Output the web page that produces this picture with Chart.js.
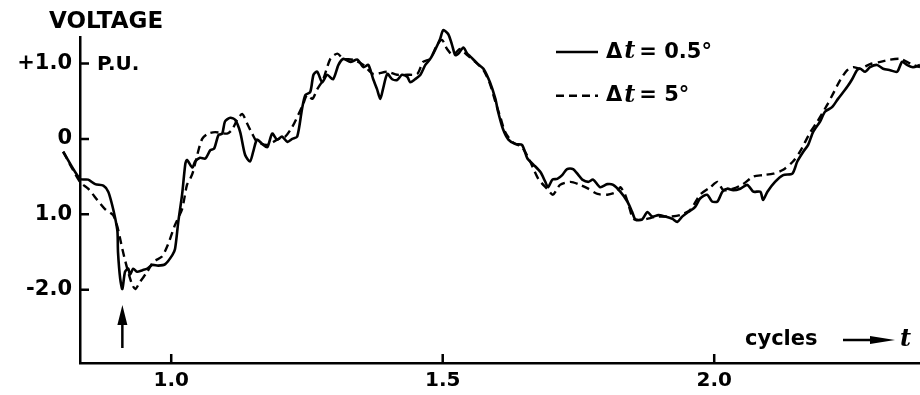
<!DOCTYPE html>
<html>
<head>
<meta charset="utf-8">
<script src="https://cdn.jsdelivr.net/npm/chart.js@4.4.0/dist/chart.umd.min.js"></script>
<style>
  html, body { margin: 0; padding: 0; background: #fff; }
  #wrap { width: 920px; height: 395px; }
</style>
</head>
<body>
<div id="wrap"><canvas id="voltageChart"></canvas></div>
<script>
// solid trace, dt = 0.5 deg (time in cycles, voltage in P.U.)
var fineT = [0.801, 0.832, 0.847, 0.860, 0.875, 0.884, 0.891, 0.897, 0.901, 0.902, 0.906, 0.910, 0.915, 0.921, 0.924, 0.930, 0.937, 0.947, 0.956,
    0.965, 0.976, 0.989, 1.002, 1.007, 1.013, 1.020, 1.026, 1.029, 1.039, 1.044, 1.053, 1.063, 1.072, 1.079, 1.087, 1.094, 1.099, 1.109, 1.118,
    1.127, 1.136, 1.145, 1.151, 1.158, 1.168, 1.177, 1.186, 1.195, 1.204, 1.214, 1.223, 1.232, 1.241, 1.247, 1.256, 1.262, 1.269, 1.278, 1.287,
    1.298, 1.308, 1.317, 1.330, 1.343, 1.354, 1.363, 1.372, 1.379, 1.385, 1.390, 1.398, 1.407, 1.416, 1.425, 1.435, 1.440, 1.449, 1.459, 1.468,
    1.477, 1.486, 1.495, 1.501, 1.510, 1.517, 1.523, 1.529, 1.538, 1.545, 1.551, 1.565, 1.575, 1.587, 1.597, 1.602, 1.611, 1.621, 1.634, 1.646,
    1.656, 1.667, 1.680, 1.689, 1.694, 1.702, 1.711, 1.720, 1.729, 1.740, 1.750, 1.757, 1.768, 1.777, 1.790, 1.803, 1.814, 1.827, 1.840, 1.849,
    1.855, 1.867, 1.877, 1.886, 1.897, 1.910, 1.923, 1.932, 1.941, 1.952, 1.965, 1.974, 1.987, 1.996, 2.006, 2.015, 2.024, 2.035, 2.048, 2.061,
    2.072, 2.085, 2.090, 2.098, 2.112, 2.127, 2.144, 2.153, 2.164, 2.173, 2.182, 2.195, 2.204, 2.217, 2.228, 2.245, 2.254, 2.263, 2.269, 2.278,
    2.287, 2.300, 2.311, 2.324, 2.337, 2.346, 2.355, 2.366, 2.379];
var fineV = [-0.17, -0.53, -0.54, -0.60, -0.62, -0.70, -0.87, -1.06, -1.23, -1.50, -1.85, -1.99, -1.76, -1.72, -1.80, -1.72, -1.76, -1.74, -1.72,
    -1.67, -1.68, -1.66, -1.54, -1.46, -1.10, -0.74, -0.33, -0.28, -0.38, -0.30, -0.25, -0.26, -0.15, -0.13, 0.05, 0.07, 0.23, 0.28, 0.25,
    0.09, -0.21, -0.30, -0.17, -0.01, -0.07, -0.11, 0.07, -0.01, 0.03, -0.04, 0.00, 0.03, 0.40, 0.58, 0.62, 0.85, 0.89, 0.75, 0.85,
    0.79, 0.98, 1.06, 1.02, 1.05, 0.95, 0.98, 0.79, 0.66, 0.53, 0.66, 0.86, 0.79, 0.78, 0.85, 0.82, 0.75, 0.79, 0.85, 0.98,
    1.06, 1.18, 1.32, 1.44, 1.39, 1.25, 1.11, 1.13, 1.21, 1.13, 1.09, 0.99, 0.93, 0.75, 0.53, 0.36, 0.13, -0.01, -0.07, -0.08,
    -0.26, -0.34, -0.44, -0.57, -0.64, -0.54, -0.53, -0.48, -0.40, -0.40, -0.48, -0.54, -0.57, -0.54, -0.64, -0.60, -0.61, -0.70, -0.83, -0.97,
    -1.07, -1.07, -0.97, -1.03, -1.01, -1.03, -1.06, -1.10, -1.03, -0.97, -0.90, -0.79, -0.74, -0.83, -0.83, -0.70, -0.66, -0.68, -0.66, -0.61,
    -0.70, -0.70, -0.81, -0.70, -0.57, -0.48, -0.46, -0.30, -0.17, -0.08, 0.09, 0.23, 0.36, 0.42, 0.53, 0.69, 0.79, 0.91, 0.93, 0.89,
    0.95, 0.98, 0.93, 0.91, 0.89, 1.02, 0.98, 0.95, 0.98];

// dashed trace, dt = 5 deg
var coarseT = [0.801, 0.832, 0.847, 0.864, 0.878, 0.893, 0.901, 0.910, 0.919, 0.928, 0.934, 0.943, 0.956, 0.967, 0.983, 0.994, 1.007, 1.020, 1.029,
    1.035, 1.040, 1.048, 1.057, 1.068, 1.081, 1.103, 1.112, 1.122, 1.131, 1.140, 1.149, 1.158, 1.177, 1.195, 1.210, 1.223, 1.234, 1.243, 1.250,
    1.260, 1.269, 1.280, 1.293, 1.306, 1.317, 1.335, 1.354, 1.372, 1.398, 1.416, 1.435, 1.453, 1.464, 1.477, 1.490, 1.499, 1.508, 1.519, 1.532,
    1.545, 1.560, 1.575, 1.587, 1.597, 1.606, 1.615, 1.628, 1.646, 1.661, 1.676, 1.692, 1.703, 1.716, 1.735, 1.750, 1.768, 1.785, 1.803, 1.821,
    1.827, 1.836, 1.845, 1.851, 1.869, 1.895, 1.919, 1.937, 1.956, 1.974, 1.993, 2.006, 2.017, 2.035, 2.053, 2.072, 2.090, 2.109, 2.127, 2.145,
    2.158, 2.177, 2.190, 2.208, 2.219, 2.232, 2.245, 2.256, 2.269, 2.287, 2.306, 2.324, 2.343, 2.355, 2.366, 2.379];
var coarseV = [-0.17, -0.57, -0.66, -0.81, -0.93, -1.01, -1.17, -1.46, -1.72, -1.93, -1.99, -1.89, -1.76, -1.63, -1.56, -1.40, -1.14, -0.93, -0.61,
    -0.53, -0.44, -0.21, 0.00, 0.07, 0.09, 0.07, 0.12, 0.26, 0.33, 0.20, 0.07, -0.04, -0.08, -0.01, 0.03, 0.16, 0.32, 0.46, 0.58,
    0.53, 0.66, 0.79, 1.06, 1.13, 1.06, 1.05, 0.98, 0.86, 0.89, 0.85, 0.85, 0.86, 1.02, 1.06, 1.25, 1.31, 1.19, 1.11, 1.19,
    1.11, 1.02, 0.91, 0.73, 0.49, 0.29, 0.09, -0.04, -0.11, -0.30, -0.53, -0.66, -0.74, -0.61, -0.57, -0.60, -0.66, -0.73, -0.74, -0.70,
    -0.64, -0.74, -0.94, -1.06, -1.07, -1.03, -1.03, -1.01, -0.94, -0.74, -0.64, -0.57, -0.68, -0.66, -0.60, -0.50, -0.48, -0.46, -0.41, -0.30,
    -0.17, 0.09, 0.23, 0.45, 0.60, 0.78, 0.91, 0.95, 0.93, 0.99, 1.02, 1.05, 1.06, 1.02, 0.98, 0.95];

var xTickValues = [1.0, 1.5, 2.0];
var yTickValues = [1, 0, -1, -2];
var yTickLabels = ['+1.0', '0', '1.0', '-2.0'];
var legendValues = ['0.5\u00b0', '5\u00b0'];
var faultTime = 0.91;

function toPoints(ts, vs) {
    return ts.map(function (t, i) { return { x: t, y: vs[i] }; });
}

var ink = '#000';
var labelFont = 'bold 21px "DejaVu Sans", sans-serif';

// inside ticks, titles, legend and arrows
var decorations = {
    id: 'decorations',
    afterDraw: function (chart) {
        var c = chart.ctx, xs = chart.scales.x, ys = chart.scales.y;
        var area = chart.chartArea;
        c.save();
        c.strokeStyle = ink;
        c.fillStyle = ink;
        c.lineWidth = 2.5;
        c.beginPath();
        yTickValues.forEach(function (v) {
            var py = ys.getPixelForValue(v);
            c.moveTo(area.left, py);
            c.lineTo(area.left + 9, py);
        });
        xTickValues.forEach(function (v) {
            var px = xs.getPixelForValue(v);
            c.moveTo(px, area.bottom);
            c.lineTo(px, area.bottom - 9);
        });
        c.stroke();

        c.font = 'bold 23px "DejaVu Sans", sans-serif';
        c.textAlign = 'left';
        c.textBaseline = 'middle';
        c.fillText('VOLTAGE', 49, 22);
        c.font = 'bold 20px "DejaVu Sans", sans-serif';
        c.fillText('P.U.', 97, ys.getPixelForValue(1) + 1);

        // legend
        var rows = [ys.getPixelForValue(1.15), ys.getPixelForValue(0.57)];
        chart.data.datasets.forEach(function (ds, i) {
            var y = rows[i];
            c.beginPath();
            c.setLineDash(ds.borderDash || []);
            c.lineWidth = 2.5;
            c.moveTo(556, y);
            c.lineTo(598, y);
            c.stroke();
            c.setLineDash([]);
            c.font = labelFont;
            c.fillText('\u0394', 606, y);
            var x = 606 + c.measureText('\u0394').width + 2;
            c.font = 'italic bold 24px "DejaVu Serif", serif';
            c.fillText('t', x, y);
            x += c.measureText('t').width + 4;
            c.font = labelFont;
            c.fillText('= ' + legendValues[i], x, y);
        });

        // x axis caption
        var cy = 340;
        c.font = 'bold 21px "DejaVu Sans", sans-serif';
        c.fillText('cycles', 745, cy);
        c.beginPath();
        c.lineWidth = 2.5;
        c.moveTo(843, cy);
        c.lineTo(880, cy);
        c.stroke();
        c.beginPath();
        c.moveTo(895, cy);
        c.lineTo(870, cy - 4);
        c.lineTo(870, cy + 4);
        c.closePath();
        c.fill();
        c.font = 'italic bold 24px "DejaVu Serif", serif';
        c.fillText('t', 900, cy);

        // fault instant arrow
        var ax = xs.getPixelForValue(faultTime);
        c.beginPath();
        c.lineWidth = 2.5;
        c.moveTo(ax, 348);
        c.lineTo(ax, 318);
        c.stroke();
        c.beginPath();
        c.moveTo(ax, 305);
        c.lineTo(ax - 5, 325);
        c.lineTo(ax + 5, 325);
        c.closePath();
        c.fill();
        c.restore();
    }
};

var ctx = document.getElementById('voltageChart');
var voltageChart = new Chart(ctx, {
    type: 'line',
    data: {
        datasets: [{
            label: '\u0394t = 0.5\u00b0',
            data: toPoints(fineT, fineV),
            borderColor: ink,
            borderWidth: 2.6,
            pointRadius: 0,
            tension: 0.25,
            clip: false
        }, {
            label: '\u0394t = 5\u00b0',
            data: toPoints(coarseT, coarseV),
            borderColor: ink,
            borderWidth: 2.4,
            borderDash: [8, 5],
            pointRadius: 0,
            tension: 0.25,
            clip: false
        }]
    },
    options: {
        responsive: true,
        maintainAspectRatio: false,
        animation: false,
        layout: { padding: { top: 37, right: 0, left: 0, bottom: 0 } },
        plugins: {
            legend: { display: false },
            tooltip: { enabled: false }
        },
        scales: {
            x: {
                type: 'linear',
                min: 0.832,
                max: 2.379,
                grid: { display: false, drawTicks: false },
                border: { display: true, color: ink, width: 2.5 },
                afterFit: function (scale) { scale.height = 32; },
                afterBuildTicks: function (scale) {
                    scale.ticks = xTickValues.map(function (v) { return { value: v }; });
                },
                ticks: {
                    padding: 6,
                    color: ink,
                    font: { family: '"DejaVu Sans", sans-serif', size: 20, weight: 'bold' },
                    callback: function (v) { return v.toFixed(1); }
                }
            },
            y: {
                type: 'linear',
                min: -2.97,
                max: 1.35,
                grid: { display: false, drawTicks: false },
                border: { display: true, color: ink, width: 2.5 },
                afterFit: function (scale) { scale.width = 80; },
                afterBuildTicks: function (scale) {
                    scale.ticks = yTickValues.map(function (v) { return { value: v }; });
                },
                ticks: {
                    padding: 8,
                    color: ink,
                    font: { family: '"DejaVu Sans", sans-serif', size: 21, weight: 'bold' },
                    callback: function (v) { return yTickLabels[yTickValues.indexOf(v)]; }
                }
            }
        }
    },
    plugins: [decorations]
});
</script>
</body>
</html>
